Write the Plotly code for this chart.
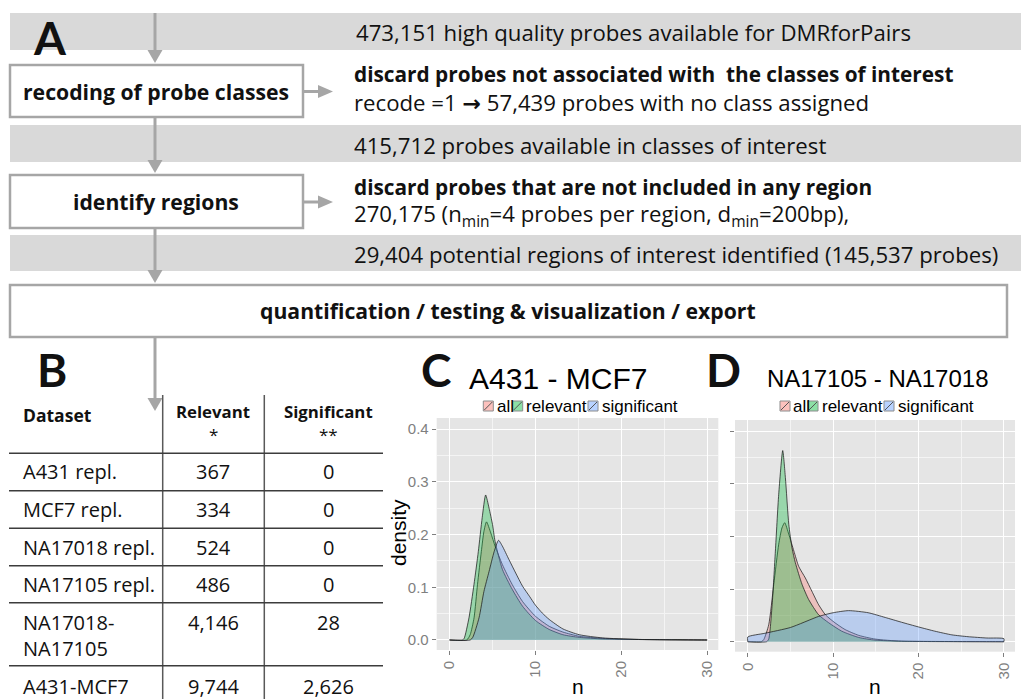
import plotly.graph_objects as go

W, H = 1021, 699

# ---------------- data ----------------
# Panel B: number of regions per comparison
datasets = ["A431 repl.", "MCF7 repl.", "NA17018 repl.", "NA17105 repl.", "NA17018-<br>NA17105", "A431-MCF7"]
relevant = ["367", "334", "524", "486", "4,146", "9,744"]
significant = ["0", "0", "0", "0", "28", "2,626"]

# Panel C: A431 - MCF7, density of probes per region (n)
c_all_n = [0, 2.0, 2.4, 2.85, 3.25, 3.7, 4.0, 4.3, 4.8, 5.3, 6.15, 7.3, 8.5, 10, 11.6, 13.2, 15.1, 17.8, 22, 30]
c_all_d = [0, 0, 0.01, 0.042, 0.105, 0.168, 0.206, 0.224, 0.203, 0.178, 0.143, 0.105, 0.073, 0.045, 0.026, 0.015, 0.007, 0.003, 0.001, 0]
c_rel_n = [0, 1.5, 1.7, 2.26, 2.84, 3.35, 3.8, 4.2, 4.6, 5.0, 5.3, 6.15, 7.3, 8.5, 10, 11.6, 13.2, 15.1, 17.8, 22, 30]
c_rel_d = [0, 0, 0.003, 0.042, 0.105, 0.168, 0.232, 0.275, 0.25, 0.219, 0.187, 0.134, 0.096, 0.064, 0.037, 0.02, 0.01, 0.005, 0.002, 0.001, 0]
c_sig_n = [0, 2.4, 2.7, 3.43, 4.0, 4.6, 5.2, 5.7, 6.15, 6.9, 7.7, 8.5, 9.3, 10, 10.8, 11.6, 13.2, 15.1, 17.8, 21.7, 30]
c_sig_d = [0, 0, 0.005, 0.042, 0.092, 0.13, 0.168, 0.189, 0.178, 0.153, 0.127, 0.102, 0.083, 0.066, 0.051, 0.039, 0.021, 0.010, 0.004, 0.001, 0]

# Panel D: NA17105 - NA17018
d_all_n = [0, 1.6, 1.87, 2.45, 3.04, 3.62, 4.0, 4.32, 4.8, 5.4, 5.96, 6.74, 7.5, 8.3, 9.1, 10.2, 11.4, 13, 14.9, 18, 30]
d_all_d = [0, 0, 0.004, 0.032, 0.109, 0.185, 0.216, 0.226, 0.204, 0.172, 0.143, 0.121, 0.096, 0.07, 0.051, 0.036, 0.023, 0.012, 0.005, 0.001, 0]
d_rel_n = [0, 2.2, 2.45, 2.85, 3.23, 3.62, 4.09, 4.4, 4.8, 5.18, 5.57, 6.35, 7.13, 8.3, 9.47, 11, 13, 14.9, 18, 30]
d_rel_d = [0, 0, 0.005, 0.07, 0.172, 0.28, 0.363, 0.312, 0.223, 0.178, 0.150, 0.109, 0.08, 0.051, 0.036, 0.02, 0.008, 0.003, 0.001, 0]
d_sig_n = [0, 2, 5, 8.3, 10, 11.8, 14.1, 16.1, 18, 20, 21.9, 23.9, 25.8, 28, 30]
d_sig_d = [0.009, 0.016, 0.027, 0.048, 0.055, 0.059, 0.055, 0.046, 0.037, 0.028, 0.020, 0.013, 0.0095, 0.007, 0.0057]

groups = ["all", "relevant", "significant"]
fills = {"all": "rgba(248,118,109,0.33)", "relevant": "rgba(0,186,56,0.33)", "significant": "rgba(97,156,255,0.33)"}

x_ticks = [0, 10, 20, 30]
y_ticks = [0.0, 0.1, 0.2, 0.3, 0.4]

# ---------------- helpers (pixel -> paper) ----------------
def X(px):
    return px / W


def Y(py):
    return 1 - py / H


FLOW = "Open Sans"
PLOT = "Liberation Sans"
GREY_BOX = "#A6A6A6"
BAND = "#D9D9D9"
REG = 22.2     # regular flow-chart text
BOLD = 20.8    # bold notes to the right of the boxes
BOX = 21.2     # bold labels inside the boxes
CELL = 20      # table body

shapes = []
annotations = []


def rect(x0, y0, x1, y1, fill, line=None, lw=0):
    shapes.append(dict(type="rect", xref="paper", yref="paper",
                       x0=X(x0), x1=X(x1), y0=Y(y1), y1=Y(y0),
                       fillcolor=fill, line=dict(color=line or fill, width=lw), layer="below"))


def seg(x0, y0, x1, y1, color, width):
    shapes.append(dict(type="line", xref="paper", yref="paper",
                       x0=X(x0), x1=X(x1), y0=Y(y0), y1=Y(y1),
                       line=dict(color=color, width=width)))


def tri(points, color):
    path = "M " + " L ".join(f"{X(px):.5f},{Y(py):.5f}" for px, py in points) + " Z"
    shapes.append(dict(type="path", xref="paper", yref="paper", path=path,
                       fillcolor=color, line=dict(color=color, width=0)))


def text(px, py, s, size, anchor="left", bold=False, family=FLOW, color="#111111", angle=0):
    if bold:
        s = f"<b>{s}</b>"
    annotations.append(dict(xref="paper", yref="paper", x=X(px), y=Y(py), text=s,
                            showarrow=False, xanchor=anchor, yanchor="middle", textangle=angle,
                            font=dict(family=family, size=size, color=color)))


# ---------------- panel A: flow chart ----------------
rect(10, 13, W, 50, BAND)
rect(10, 125, W, 162, BAND)
rect(10, 235, W, 271, BAND)

rect(10, 65, 303, 117, "white", GREY_BOX, 2.5)
rect(10, 175, 303, 228, "white", GREY_BOX, 2.5)
rect(10, 285, 1007, 337, "white", GREY_BOX, 2.5)

# downward flow along x = 155
vx = 155
for top, tip in [(13, 63), (117, 173), (228, 283), (337, 411)]:
    seg(vx, top, vx, tip - 10, GREY_BOX, 3)
    tri([(vx - 7.5, tip - 13), (vx + 7.5, tip - 13), (vx, tip)], GREY_BOX)

# side arrows from the boxes
for yy in (91.5, 202):
    seg(303, yy, 320, yy, GREY_BOX, 3)
    tri([(318, yy - 6.5), (318, yy + 6.5), (333, yy)], GREY_BOX)

text(50, 37, "A", 46, "center", True, family="Lato")
text(354, 32, "473,151 high quality probes available for DMRforPairs", REG)
text(156, 91, "recoding of probe classes", BOX, "center", True)
text(352, 73.5, "discard probes not associated with  the classes of interest", BOLD, bold=True)
text(352, 102.5, 'recode =1 <span style="font-family:DejaVu Sans;font-weight:bold">→</span> 57,439 probes with no class assigned', REG)
text(352, 146, "415,712 probes available in classes of interest", REG)
text(156, 201.5, "identify regions", BOX, "center", True)
text(352, 186.5, "discard probes that are not included in any region", BOLD, bold=True)
text(352, 215, "270,175 (n<sub>min</sub>=4 probes per region, d<sub>min</sub>=200bp),", REG)
text(352, 254.5, "29,404 potential regions of interest identified (145,537 probes)", REG)
text(508, 310.5, "quantification / testing &amp; visualization / export", BOX, "center", True)

# ---------------- panel B: table ----------------
text(52, 369, "B", 46, "center", True, family="Lato")
TAB = "#3C3C3C"
seg(162.7, 395, 162.7, H, "#595959", 1.5)
seg(264.3, 395, 264.3, H, "#595959", 1.5)
for yy in (453.3, 490.7, 528.3, 565.7, 602.7, 665.7):
    seg(9, yy, 383, yy, TAB, 1.6)

text(21, 415, "Dataset", 17.5, bold=True)
text(213, 411, "Relevant", 16.8, "center", True)
text(213, 434, "*", 17, "center")
text(328, 411, "Significant", 16.8, "center", True)
text(328, 434, "**", 17, "center")

row_y = [471.5, 509.5, 547, 584.5, 635, 686]
for name, rel, sig, yy in zip(datasets, relevant, significant, row_y):
    if "<br>" in name:
        first, second = name.split("<br>")
        text(21, 622, first, CELL)
        text(21, 648, second, CELL)
        text(213, 622, rel, CELL, "center")
        text(328, 622, sig, CELL, "center")
    else:
        text(21, yy, name, CELL)
        text(213, yy, rel, CELL, "center")
        text(328, yy, sig, CELL, "center")

# ---------------- panels C and D: density plots ----------------
text(436, 369, "C", 46, "center", True, family="Lato")
text(723, 369, "D", 46, "center", True, family="Lato")
text(558, 378, "A431 - MCF7", 30, "center", family=PLOT, color="black")
text(877, 378, "NA17105 - NA17018", 24, "center", family=PLOT, color="black")
text(398, 533, "density", 21, "center", family=PLOT, color="black", angle=-90)
text(577.5, 686, "n", 21, "center", family=PLOT, color="black")
text(875, 686, "n", 21, "center", family=PLOT, color="black")

# legend keys drawn as ggplot-style boxes with a diagonal stroke
legend_keys = {
    "C": [(483.3, 494.5), (512.7, 524.0), (588.0, 599.5)],
    "D": [(780.0, 791.0), (808.0, 819.5), (884.0, 895.5)],
}
for panel, keys in legend_keys.items():
    for g, (kx, tx) in zip(groups, keys):
        rect(kx, 401, kx + 10, 411, fills[g].replace("0.33", "0.45"), "#8C8C8C", 1)
        seg(kx + 1, 410, kx + 9, 402, "#555555", 1)
        text(tx, 406.5, g, 17, family=PLOT, color="black")

fig = go.Figure()


def density(n, d, g, xa, ya):
    xs = [n[0]] + list(n) + [n[-1]]
    ys = [0] + list(d) + [0]
    fig.add_trace(go.Scatter(x=xs, y=ys, mode="lines", fill="toself", fillcolor=fills[g],
                             line=dict(color="rgba(30,30,30,0.75)", width=1, shape="spline", smoothing=0.6),
                             name=g, showlegend=False, hoverinfo="skip", xaxis=xa, yaxis=ya))


density(c_all_n, c_all_d, "all", "x", "y")
density(c_rel_n, c_rel_d, "relevant", "x", "y")
density(c_sig_n, c_sig_d, "significant", "x", "y")
density(d_all_n, d_all_d, "all", "x2", "y2")
density(d_rel_n, d_rel_d, "relevant", "x2", "y2")
density(d_sig_n, d_sig_d, "significant", "x2", "y2")

tick_font = dict(family=PLOT, size=15, color="#7F7F7F")
common_x = dict(range=[-1.5, 31.3], tickmode="array", tickvals=x_ticks, ticktext=[str(v) for v in x_ticks],
                tickangle=-90, ticks="outside", ticklen=4, tickcolor="#7F7F7F", tickfont=tick_font,
                showgrid=True, gridcolor="white", gridwidth=1.4, zeroline=False, showline=False,
                minor=dict(dtick=5, tick0=0, showgrid=True, gridcolor="#F4F4F4", gridwidth=0.7, ticklen=0))
common_y = dict(range=[-0.019, 0.421], tickmode="array", tickvals=y_ticks,
                ticks="outside", ticklen=4, tickcolor="#7F7F7F", tickfont=tick_font,
                showgrid=True, gridcolor="white", gridwidth=1.4, zeroline=False, showline=False,
                minor=dict(dtick=0.05, tick0=0, showgrid=True, gridcolor="#F4F4F4", gridwidth=0.7, ticklen=0))

fig.update_layout(
    width=W, height=H, margin=dict(l=0, r=0, t=0, b=0),
    paper_bgcolor="white", plot_bgcolor="#E5E5E5", showlegend=False,
    xaxis=dict(domain=[X(436.7), X(718.3)], anchor="y", **common_x),
    yaxis=dict(domain=[Y(650), Y(418)], anchor="x", ticktext=[f"{v:.1f}" for v in y_ticks], **common_y),
    xaxis2=dict(domain=[X(735), X(1015)], anchor="y2", **common_x),
    yaxis2=dict(domain=[Y(651.7), Y(420)], anchor="x2", showticklabels=False, **common_y),
    shapes=shapes, annotations=annotations,
)

fig.write_html("out.html")
